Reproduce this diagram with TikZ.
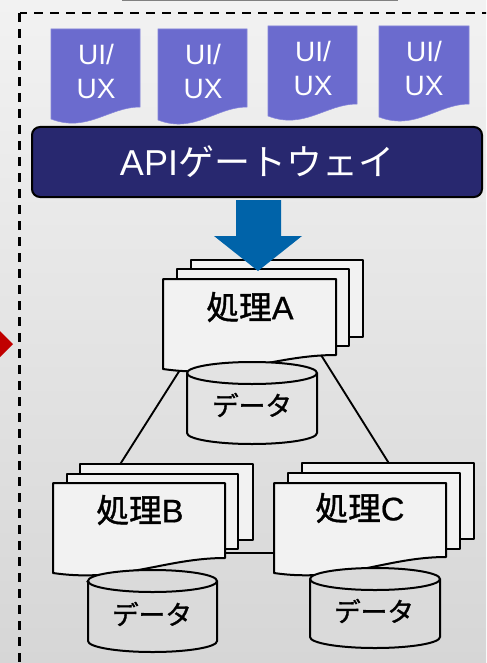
\documentclass[tikz,border=0pt]{standalone}
\usepackage{fontspec}
\setmainfont{Liberation Sans}
\newfontfamily\jp{Noto Sans CJK JP}
\newfontfamily\jpm[FakeBold=1.2]{Noto Sans CJK JP}
\newfontfamily\latm[FakeBold=0.6]{Liberation Sans}
\usetikzlibrary{calc}
\definecolor{uiblue}{HTML}{6B6BCE}
\definecolor{uiedge}{HTML}{8585DA}
\definecolor{apinavy}{HTML}{28286F}
\definecolor{arrowblue}{HTML}{0063A9}
\definecolor{docfill}{HTML}{F2F2F2}
\definecolor{redtri}{HTML}{C00000}
\definecolor{bgtop}{HTML}{F2F2F2}
\definecolor{bgbot}{HTML}{D6D6D6}
\definecolor{cylA}{HTML}{E3E3E3}
\definecolor{cylB}{HTML}{DADADA}
\begin{document}
\begin{tikzpicture}[x=0.75pt,y=-0.75pt,
  uidoc/.style={fill=uiblue,draw=uiedge,line width=0.4pt},
  uitxt/.style={text=white,align=center,inner sep=0pt,font=\fontsize{21}{25.5}\selectfont},
  apibox/.style={draw=black,fill=apinavy,line width=1.5pt,rounded corners=6pt,
     minimum width=337.5pt,minimum height=52.5pt,text=white,inner sep=0pt,
     font=\fontsize{27}{30}\selectfont},
  docbox/.style={draw=black,fill=docfill,line width=1.5pt,line join=round},
  proctxt/.style={inner sep=0pt,font=\fontsize{24.5}{28}\latm},
  cyl/.style={draw=black,line width=1.5pt},
  cyltxt/.style={inner sep=0pt,font=\fontsize{20}{24}\jpm},
  conn/.style={draw=black,line width=1.4pt},
  frame/.style={draw=black,line width=1.8pt,dash pattern=on 6.6pt off 5.4pt}]
\useasboundingbox (0,0) rectangle (486,663);
\clip (0,0) rectangle (486,663);
\shade[top color=bgtop,bottom color=bgbot] (0,0) rectangle (486,663);
% box above (bottom edge only visible)
\draw[draw=gray,line width=1.2pt] (123,-30) rectangle (397,0.5);
% dashed frame
\draw[frame] (19.5,13) rectangle (540,720);
% red triangle
\fill[redtri] (-3,328) -- (13,344) -- (-3,360) -- cycle;
% UI/UX documents
\path[uidoc] (51,29) -- (140,29) -- (140,107) .. controls (109,107) and (87,133) .. (51,119) -- cycle;
\path[uidoc] (158,29) -- (247,29) -- (247,107) .. controls (216,107) and (194,134) .. (158,120) -- cycle;
\path[uidoc] (268,26) -- (357,26) -- (357,104) .. controls (326,104) and (304,130) .. (268,116) -- cycle;
\path[uidoc] (379,26) -- (469,26) -- (469,104) .. controls (438,104) and (415,131) .. (379,117) -- cycle;
\node[uitxt] (u1) at (96,71) {UI/\\UX};
\node[uitxt] (u2) at (203,71) {UI/\\UX};
\node[uitxt] (u3) at (313,68) {UI/\\UX};
\node[uitxt] (u4) at (424,68) {UI/\\UX};
% API gateway
\node[apibox] (api) at (257,162) {API{\jp ゲートウェイ}};
% connectors (behind the documents)
\coordinate (a1) at (185,362);
\coordinate (b1) at (119,466);
\coordinate (a2) at (316,347);
\coordinate (c1) at (390,465);
\coordinate (b2) at (220,553);
\coordinate (c2) at (280,553);
\draw[conn] (a1) -- (b1);
\draw[conn] (a2) -- (c1);
\draw[conn] (b2) -- (c2);
% process A
\path[docbox] (191,260) rectangle (363,337);
\path[docbox] (177,269) rectangle (349,346);
\path[docbox] (163,279) -- (336,279) -- (336,355) .. controls (275,355) and (232,379) .. (163,369) -- cycle;
\node[proctxt] (pA) at (250,307) {{\jpm 処理}A};
% process B
\path[docbox] (80,464) rectangle (253,540);
\path[docbox] (67,474) rectangle (238,549);
\path[docbox] (53,483) -- (225,483) -- (225,558) .. controls (165,558) and (122,583) .. (53,573) -- cycle;
\node[proctxt] (pB) at (140,510) {{\jpm 処理}B};
% process C
\path[docbox] (302,463) rectangle (474,539);
\path[docbox] (288,473) rectangle (460,549);
\path[docbox] (274,483) -- (446,483) -- (446,557) .. controls (386,557) and (343,583) .. (274,573) -- cycle;
\node[proctxt] (pC) at (360,508) {{\jpm 処理}C};
% cylinders
\path[cyl,fill=cylA] (187,373) -- (187,433) arc[start angle=180,end angle=360,x radius=48.75pt,y radius=8.25pt] -- (317,373) arc[start angle=0,end angle=180,x radius=48.75pt,y radius=8.25pt] -- cycle;
\draw[cyl] (187,373) arc[start angle=180,end angle=360,x radius=48.75pt,y radius=8.25pt];
\node[cyltxt] (dA) at (252,405) {データ};
\path[cyl,fill=cylB] (88,581) -- (88,641) arc[start angle=180,end angle=360,x radius=48.4pt,y radius=8.25pt] -- (217,581) arc[start angle=0,end angle=180,x radius=48.4pt,y radius=8.25pt] -- cycle;
\draw[cyl] (88,581) arc[start angle=180,end angle=360,x radius=48.4pt,y radius=8.25pt];
\node[cyltxt] (dB) at (152,614) {データ};
\path[cyl,fill=cylB] (310,579) -- (310,637) arc[start angle=180,end angle=360,x radius=48.75pt,y radius=8.25pt] -- (440,579) arc[start angle=0,end angle=180,x radius=48.75pt,y radius=8.25pt] -- cycle;
\draw[cyl] (310,579) arc[start angle=180,end angle=360,x radius=48.75pt,y radius=8.25pt];
\node[cyltxt] (dC) at (374,611) {データ};
% blue block arrow from gateway to process A
\fill[arrowblue] (236,200) -- (281,200) -- (281,236) -- (302,236) -- (258,271) -- (214,236) -- (236,236) -- cycle;
\end{tikzpicture}
\end{document}
